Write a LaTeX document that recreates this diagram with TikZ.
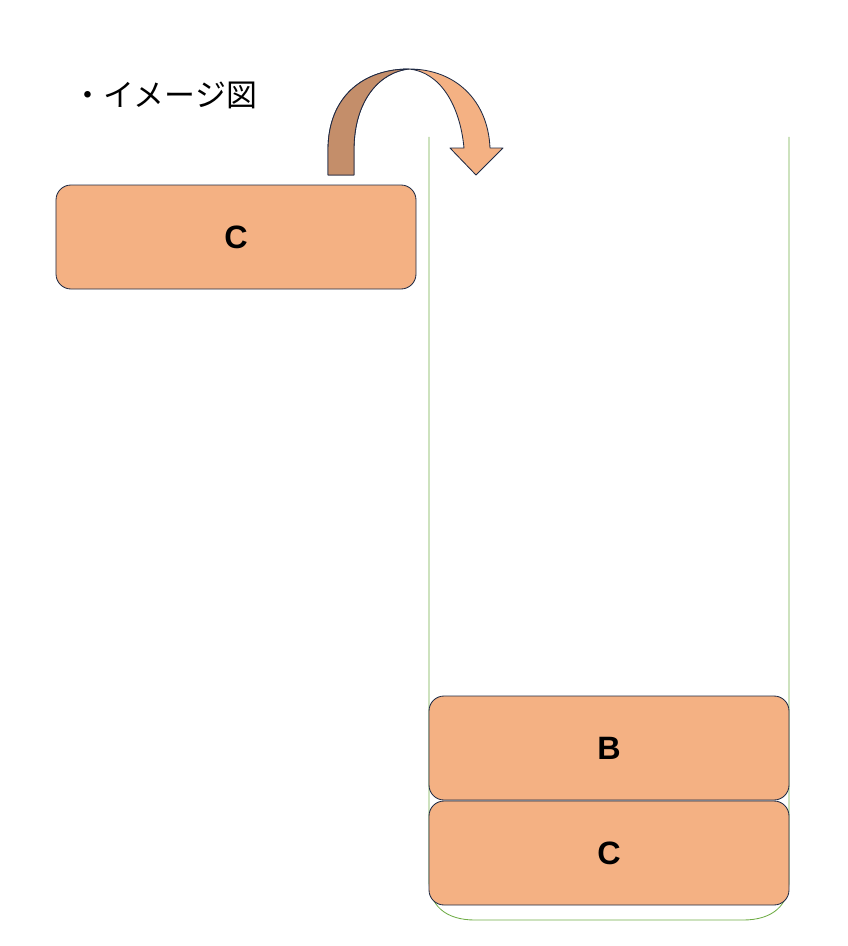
\documentclass[tikz,border=0pt]{standalone}
\usepackage{fontspec}
\setmainfont{Liberation Sans}
\newfontfamily\cjk{Noto Sans CJK JP}
\definecolor{boxfill}{HTML}{F4B183}
\definecolor{boxline}{HTML}{1F2A44}
\definecolor{darkarrow}{HTML}{C48E6A}
\definecolor{tubegreen}{HTML}{70AD47}
\tikzset{
  block/.style={draw=boxline, fill=boxfill, line width=1.2pt, rounded corners=7.5mm,
    minimum width=180mm, minimum height=52mm, inner sep=0pt,
    font=\bfseries\fontsize{46}{46}\selectfont},
}
\begin{document}
\begin{tikzpicture}[x=0.5mm, y=-0.5mm]
  \useasboundingbox (0,0) rectangle (847,946);

  % tube
  \draw[tubegreen, line width=1.2pt] (429,137) -- (429,880)
    .. controls (429,905) and (445,920) .. (475,920) -- (743,920)
    .. controls (773,920) and (789,905) .. (789,880) -- (789,137);

  % blocks
  \node[block] (moving) at (236,237) {C};
  \node[block] (stackB) at (609,748) {B};
  \node[block] (stackC) at (609,853) {C};

  % curved arrow
  \draw[boxline, fill=boxfill, line width=1.2pt, line join=round]
    (328,175) -- (328,150) .. controls (328,95) and (365,69) .. (409,69)
    .. controls (455,69) and (488,100) .. (490,148) -- (503,148) -- (476,175)
    -- (450,148) -- (464,148) .. controls (460,105) and (440,72) .. (409,69)
    .. controls (380,72) and (354,100) .. (354,150) -- (354,175) -- cycle;
  \draw[boxline, fill=darkarrow, line width=1.2pt, line join=round]
    (328,175) -- (328,150) .. controls (328,95) and (365,69) .. (409,69)
    .. controls (380,72) and (354,100) .. (354,150) -- (354,175) -- cycle;

  \node[anchor=west, inner sep=0pt, font=\cjk\fontsize{44}{44}\selectfont] (title) at (72,95) {・イメージ図};
\end{tikzpicture}
\end{document}
